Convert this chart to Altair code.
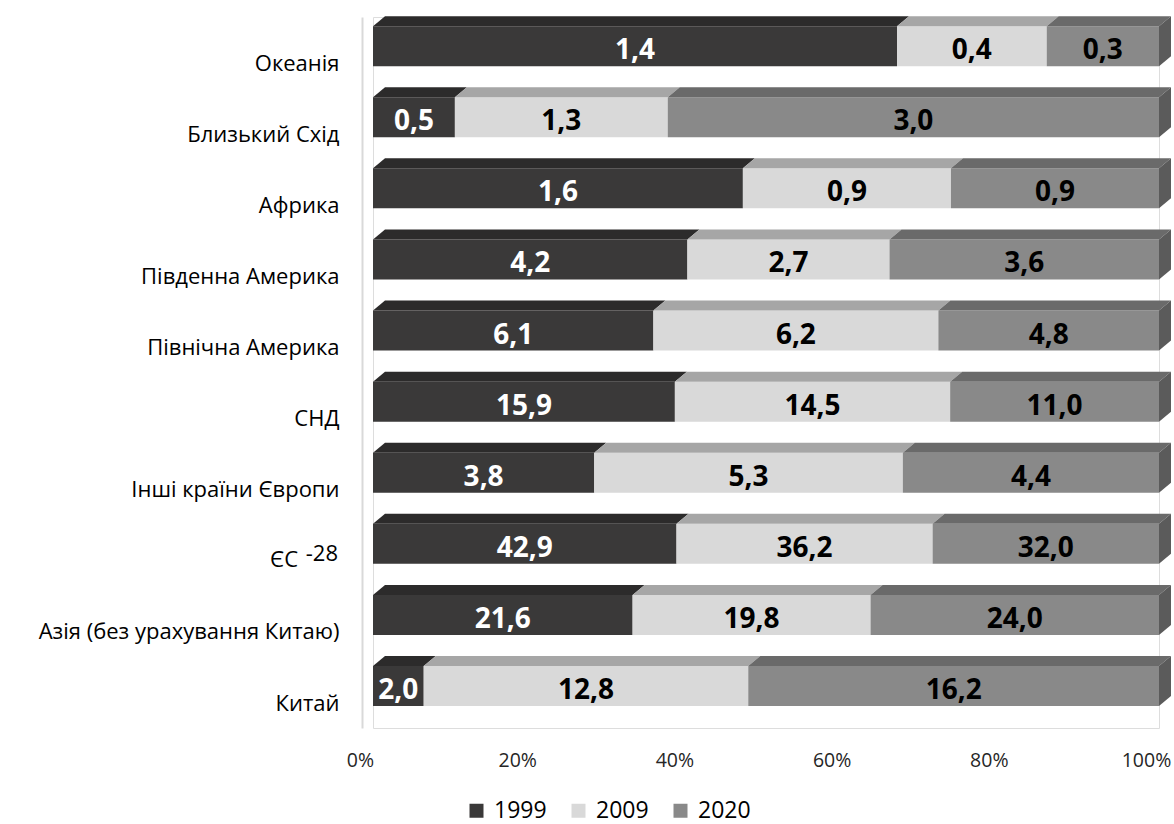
import json
import altair as alt
import pandas as pd

# ---- data ----
regions = ["Океанія", "Близький Схід", "Африка", "Південна Америка", "Північна Америка",
           "СНД", "Інші країни Європи", "ЄС", "Азія (без урахування Китаю)", "Китай"]
# the ЄС label carries a raised "-28", drawn as two text pieces
axis_labels = ["Океанія", "Близький Схід", "Африка", "Південна Америка", "Північна Америка",
               "СНД", "Інші країни Європи", "", "Азія (без урахування Китаю)", "Китай"]
eu_index = [7]
eu_main = ["ЄС"]
eu_sup = ["-28"]
years = ["1999", "2009", "2020"]
v1999 = [1.4, 0.5, 1.6, 4.2, 6.1, 15.9, 3.8, 42.9, 21.6, 2.0]
v2009 = [0.4, 1.3, 0.9, 2.7, 6.2, 14.5, 5.3, 36.2, 19.8, 12.8]
v2020 = [0.3, 3.0, 0.9, 3.6, 4.8, 11.0, 4.4, 32.0, 24.0, 16.2]
x_ticks = [0, 20, 40, 60, 80, 100]

# ---- style ----
front_colors = ["#3a3939", "#d9d9d9", "#898989"]
top_colors = ["#2c2b2b", "#a6a6a6", "#6a6a6a"]
side_color = "#5b5b5b"
label_colors = ["#ffffff", "#000000", "#000000"]
FONT = "Open Sans"

W, H = 786, 711
Y_DOMAIN = [-0.41, 9.59]
PX = H / (Y_DOMAIN[1] - Y_DOMAIN[0])
HALF = 20 / PX          # half front-face height in index units
DY = 10 / PX            # 3D depth (vertical) in index units
DX = 12 / W * 100       # 3D depth (horizontal) in percent units

series = [v1999, v2009, v2020]

front_rows, face_rows, text_rows = [], [], []
for i, reg in enumerate(regions):
    total = sum(s[i] for s in series)
    cum = 0.0
    for k, yr in enumerate(years):
        v = series[k][i]
        x0 = cum / total * 100
        x1 = (cum + v) / total * 100
        cum += v
        key = f"t{i}-{yr}"
        front_rows.append(dict(idx=i, year=yr, x0=x0, x1=x1, yt=i - HALF, yb=i + HALF))
        # top face (parallelogram)
        face_rows.append(dict(key=key, y=i - HALF, xa=x0, xb=x1, c=top_colors[k]))
        face_rows.append(dict(key=key, y=i - HALF - DY, xa=x0 + DX, xb=x1 + DX, c=top_colors[k]))
        text_rows.append(dict(idx=i, xm=(x0 + x1) / 2, t=f"{v:.1f}".replace(".", ","), c=label_colors[k]))
    # right-hand side face of each bar (parallelogram)
    sk = f"s{i}"
    face_rows.append(dict(key=sk, y=i - HALF - DY, xa=100 + DX, xb=100 + DX, c=side_color))
    face_rows.append(dict(key=sk, y=i - HALF, xa=100, xb=100 + DX, c=side_color))
    face_rows.append(dict(key=sk, y=i + HALF - DY, xa=100, xb=100 + DX, c=side_color))
    face_rows.append(dict(key=sk, y=i + HALF, xa=100, xb=100, c=side_color))

front_df = pd.DataFrame(front_rows)
face_df = pd.DataFrame(face_rows)
text_df = pd.DataFrame(text_rows)
eu_df = pd.DataFrame(dict(idx=eu_index, main=eu_main, sup=eu_sup))

xscale = alt.Scale(domain=[0, 100], nice=False, zero=False)
yscale = alt.Scale(domain=Y_DOMAIN, reverse=True, nice=False, zero=False)

label_expr = json.dumps(axis_labels, ensure_ascii=False) + "[datum.value]"

front = alt.Chart(front_df).mark_rect().encode(
    x=alt.X("x0:Q", scale=xscale, axis=alt.Axis(
        values=x_ticks, labelExpr="datum.value + '%'", title=None, domain=False,
        ticks=False, tickSize=0, grid=False, labelPadding=23, labelOffset=-13,
        labelFlush=False, labelOverlap=False, labelFont=FONT, labelFontSize=19.5,
        labelColor="#262626")),
    x2="x1:Q",
    y=alt.Y("yt:Q", scale=yscale, axis=alt.Axis(
        values=list(range(len(regions))), labelExpr=label_expr, title=None,
        domain=True, domainColor="#d9d9d9", domainWidth=2, ticks=False, tickSize=0,
        grid=False, offset=11, labelPadding=23, labelOffset=17, labelFont=FONT,
        labelFontSize=22, labelColor="#000000", labelOverlap=False, labelBound=False,
        labelLimit=500)),
    y2="yb:Q",
    color=alt.Color("year:N", scale=alt.Scale(domain=years, range=front_colors),
                    legend=alt.Legend(title=None, orient="none", direction="horizontal",
                                      legendX=92, legendY=782, symbolType="square",
                                      symbolSize=196, symbolStrokeWidth=0, labelFont=FONT,
                                      labelFontSize=23, labelColor="#000000",
                                      columnPadding=20, labelOffset=6, padding=0)),
)

faces = alt.Chart(face_df).mark_area(orient="horizontal").encode(
    y=alt.Y("y:Q", scale=yscale),
    x=alt.X("xa:Q", scale=xscale),
    x2="xb:Q",
    detail="key:N",
    fill=alt.Fill("c:N", scale=None, legend=None),
)

labels = alt.Chart(text_df).mark_text(font=FONT, fontSize=28, fontWeight="bold", dy=5).encode(
    x=alt.X("xm:Q", scale=xscale),
    y=alt.Y("idx:Q", scale=yscale),
    text="t:N",
    fill=alt.Fill("c:N", scale=None, legend=None),
)

eu_main_txt = alt.Chart(eu_df).mark_text(font=FONT, fontSize=22, align="right", dx=-75, dy=16,
                                         fill="#000000").encode(
    x=alt.datum(0, scale=xscale),
    y=alt.Y("idx:Q", scale=yscale),
    text="main:N",
)

eu_sup_txt = alt.Chart(eu_df).mark_text(font=FONT, fontSize=22, align="right", dx=-35, dy=10,
                                        fill="#000000").encode(
    x=alt.datum(0, scale=xscale),
    y=alt.Y("idx:Q", scale=yscale),
    text="sup:N",
)

chart = alt.layer(front, faces, labels, eu_main_txt, eu_sup_txt).properties(
    width=W, height=H,
    autosize=alt.AutoSizeParams(type="none"),
    padding={"left": 373, "top": 17, "right": 15, "bottom": 96},
).configure_view(stroke="transparent", strokeWidth=0).configure_axis(grid=False).configure(
    background="#ffffff")

chart.save("out.html", embed_options={"renderer": "svg", "actions": False})
